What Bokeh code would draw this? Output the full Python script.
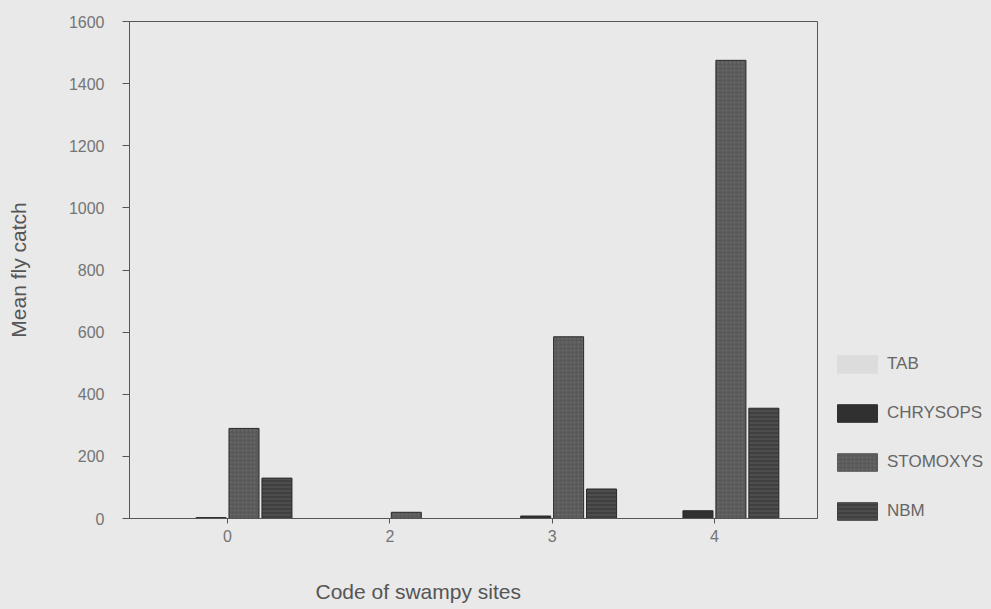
from bokeh.plotting import figure
from bokeh.layouts import row
from bokeh.models import (Range1d, FixedTicker, Legend, LegendItem, ColumnDataSource,
                          Title, LinearAxis)
from bokeh.embed import file_html
from bokeh.resources import INLINE

# ---- data ----
sites = ["0", "2", "3", "4"]
series = ["TAB", "CHRYSOPS", "STOMOXYS", "NBM"]
tab = [0, 0, 0, 0]
chrysops = [3, 0, 8, 25]
stomoxys = [290, 20, 585, 1475]
nbm = [130, 0, 95, 355]
y_ticks = [0, 200, 400, 600, 800, 1000, 1200, 1400, 1600]

values = [tab, chrysops, stomoxys, nbm]
colors = ["#dcdcdc", "#303030", "#5a5a5a", "#404040"]
hatches = [None, None, "dot", "horizontal_line"]

BG = "#e9e9e9"
FONT = "Liberation Sans"
idx = list(range(len(sites)))

p = figure(width=819, height=609, output_backend="svg", toolbar_location=None,
           x_range=Range1d(-0.604, 3.635), y_range=Range1d(0, 1600),
           background_fill_color=BG, border_fill_color=BG,
           min_border_left=129, min_border_right=2, min_border_top=21,
           min_border_bottom=91)

step = 0.203
width = 0.185
renderers = []
for k, (name, vals, col, hat) in enumerate(zip(series, values, colors, hatches)):
    off = (k - 1.5) * step
    src = ColumnDataSource(dict(x=[i + off for i in idx], top=vals))
    kw = {}
    if hat:
        kw = dict(hatch_pattern=hat, hatch_color="#8a8a8a", hatch_alpha=0.35, hatch_scale=4)
    r = p.vbar(x="x", top="top", width=width, bottom=0, source=src,
               fill_color=col, line_color="#2a2a2a" if k else col, line_width=1, **kw)
    renderers.append(r)

p.xgrid.visible = False
p.ygrid.visible = False
p.outline_line_color = "#555555"
p.outline_line_width = 1

p.xaxis.ticker = FixedTicker(ticks=idx)
p.xaxis.major_label_overrides = {i: s for i, s in zip(idx, sites)}
p.yaxis.ticker = FixedTicker(ticks=y_ticks)

for ax in (p.xaxis[0], p.yaxis[0]):
    ax.axis_line_color = "#555555"
    ax.major_tick_line_color = "#555555"
    ax.minor_tick_line_color = None
    ax.major_tick_in = 0
    ax.major_label_text_font = FONT
    ax.major_label_text_font_size = "16px"
    ax.major_label_text_color = "#747474"
    ax.axis_label_text_font = FONT
    ax.axis_label_text_font_size = "21px"
    ax.axis_label_text_font_style = "normal"
    ax.axis_label_text_color = "#555555"

p.yaxis.axis_label = "Mean fly catch"
p.xaxis.major_tick_out = 5
p.yaxis.major_tick_out = 7
p.xaxis.major_label_standoff = 6
p.yaxis.major_label_standoff = 18
p.yaxis.axis_label_standoff = 36

# invisible spacer between the x axis and its title
spacer = LinearAxis(ticker=FixedTicker(ticks=[idx[0]]), axis_line_color=None,
                    major_tick_line_color=None, minor_tick_line_color=None,
                    major_tick_in=0, major_tick_out=33, major_label_standoff=0,
                    major_label_overrides={idx[0]: ""},
                    major_label_text_font_size="1px")
p.add_layout(spacer, "below")

xtitle = Title(text="Code of swampy sites", align="left", offset=186, standoff=0,
               vertical_align="bottom",
               text_font=FONT, text_font_size="21px", text_font_style="normal",
               text_color="#555555")
p.add_layout(xtitle, "below")

# legend panel on the right
p2 = figure(width=172, height=609, output_backend="svg", toolbar_location=None,
            x_range=Range1d(0, 1), y_range=Range1d(0, 1),
            background_fill_color=BG, border_fill_color=BG,
            min_border_left=0, min_border_right=0, min_border_top=0, min_border_bottom=0)
if "frame_align" in p2.properties():
    p2.frame_align = False
    p.frame_align = False
p2.axis.visible = False
p2.xgrid.visible = False
p2.ygrid.visible = False
p2.outline_line_color = None

items = []
for name, col, hat in zip(series, colors, hatches):
    kw = {}
    if hat:
        kw = dict(hatch_pattern=hat, hatch_color="#8a8a8a", hatch_alpha=0.35, hatch_scale=4)
    r2 = p2.vbar(x=[5], top=[1], width=0.1, fill_color=col, line_color=col, **kw)
    items.append(LegendItem(label=name, renderers=[r2]))

legend = Legend(items=items, location=(13, 87), orientation="vertical",
                glyph_width=50, glyph_height=22, label_height=22, spacing=27,
                padding=0, margin=0, label_standoff=5,
                border_line_color=None, background_fill_alpha=0,
                label_text_font=FONT, label_text_font_size="17px",
                label_text_color="#666666")
p2.add_layout(legend, "center")

layout = row(p, p2, styles={"background-color": BG})
open("out.html", "w").write(file_html(layout, INLINE))
